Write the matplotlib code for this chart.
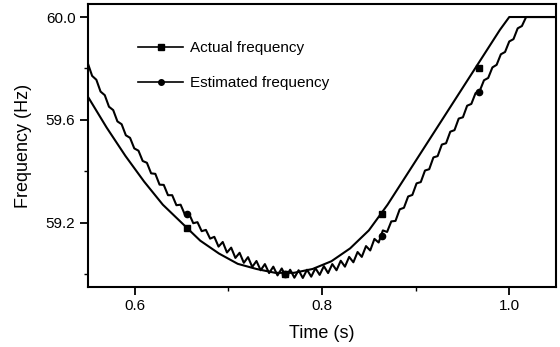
import numpy as np
import matplotlib
matplotlib.use("Agg")
import matplotlib.pyplot as plt

plt.rcParams['font.family'] = ['Liberation Sans', 'DejaVu Sans']

# actual frequency (smooth curve)
act_time = [0.55, 0.57, 0.59, 0.61, 0.63, 0.65, 0.67, 0.69, 0.71, 0.73, 0.75,
            0.77, 0.79, 0.81, 0.83, 0.85, 0.87, 0.90, 0.93, 0.96, 0.99, 1.00, 1.05]
act_freq = [59.69, 59.57, 59.46, 59.36, 59.27, 59.20, 59.13, 59.08, 59.04, 59.02, 59.005,
            59.005, 59.02, 59.05, 59.10, 59.17, 59.27, 59.44, 59.61, 59.78, 59.95, 60.0, 60.0]

# estimated frequency (wavy curve), sampled every 4.5 ms from 0.55 s, last point at 1.05 s
est_freq = [59.819, 59.771, 59.756, 59.710, 59.696, 59.651, 59.638, 59.594, 59.583, 59.540,
            59.530, 59.489, 59.480, 59.440, 59.433, 59.392, 59.390, 59.348, 59.347, 59.307,
            59.307, 59.268, 59.270, 59.232, 59.235, 59.198, 59.202, 59.167, 59.172, 59.138,
            59.145, 59.107, 59.125, 59.084, 59.103, 59.063, 59.083, 59.044, 59.066, 59.028,
            59.051, 59.015, 59.039, 59.004, 59.029, 58.995, 59.022, 58.989, 59.017, 58.986,
            59.015, 58.985, 59.017, 58.990, 59.023, 58.997, 59.031, 59.004, 59.039, 59.015,
            59.052, 59.029, 59.067, 59.046, 59.086, 59.067, 59.109, 59.092, 59.137, 59.123,
            59.170, 59.164, 59.205, 59.207, 59.252, 59.258, 59.302, 59.308, 59.353, 59.358,
            59.403, 59.408, 59.454, 59.459, 59.504, 59.509, 59.554, 59.560, 59.605, 59.610,
            59.655, 59.662, 59.704, 59.713, 59.754, 59.763, 59.804, 59.814, 59.855, 59.864,
            59.905, 59.914, 59.956, 59.965, 60.000, 60.0]
est_time = np.append(0.55 + 0.0045 * np.arange(len(est_freq) - 1), 1.05)

# marker positions
mark_time = [0.656, 0.760, 0.864, 0.968]
act_mark = [59.18, 59.00, 59.235, 59.80]
est_mark = [59.235, 59.00, 59.15, 59.71]

fig = plt.figure(figsize=(5.6, 3.47), dpi=100)
ax = fig.add_axes([0.157, 0.173, 0.836, 0.815])

ax.plot(act_time, act_freq, color='black', lw=1.5)
ax.plot(est_time, est_freq, color='black', lw=1.5, solid_joinstyle='round')
ax.plot(mark_time, act_mark, 's', color='black', ms=4.5, ls='none')
ax.plot(mark_time, est_mark, 'o', color='black', ms=4.5, ls='none')

# legend entries
ax.plot([], [], 's-', color='black', lw=1.2, ms=4.5, label='Actual frequency')
ax.plot([], [], 'o-', color='black', lw=1.2, ms=4, label='Estimated frequency')
handles, labels = ax.get_legend_handles_labels()
ax.legend(handles, labels, loc='upper left', bbox_to_anchor=(0.108, 0.868),
          frameon=False, fontsize=11, handlelength=2.9, handletextpad=0.5,
          labelspacing=1.35, borderpad=0, borderaxespad=0, numpoints=1)

ax.set_xlim(0.55, 1.05)
ax.set_ylim(58.95, 60.05)
ax.set_xticks([0.6, 0.8, 1.0])
ax.set_xticks([0.7, 0.9], minor=True)
ax.set_yticks([59.2, 59.6, 60.0])
ax.set_yticks([59.0, 59.4, 59.8], minor=True)
ax.xaxis.set_major_formatter(matplotlib.ticker.FormatStrFormatter('%.1f'))
ax.yaxis.set_major_formatter(matplotlib.ticker.FormatStrFormatter('%.1f'))
ax.tick_params(which='major', length=6, width=1.3, labelsize=11, pad=3)
ax.tick_params(which='minor', length=3, width=1.0)
for s in ax.spines.values():
    s.set_linewidth(1.5)

ax.set_xlabel('Time (s)', fontsize=13, labelpad=8)
ax.set_ylabel('Frequency (Hz)', fontsize=13, labelpad=10)

fig.savefig('out.png', dpi=100)
